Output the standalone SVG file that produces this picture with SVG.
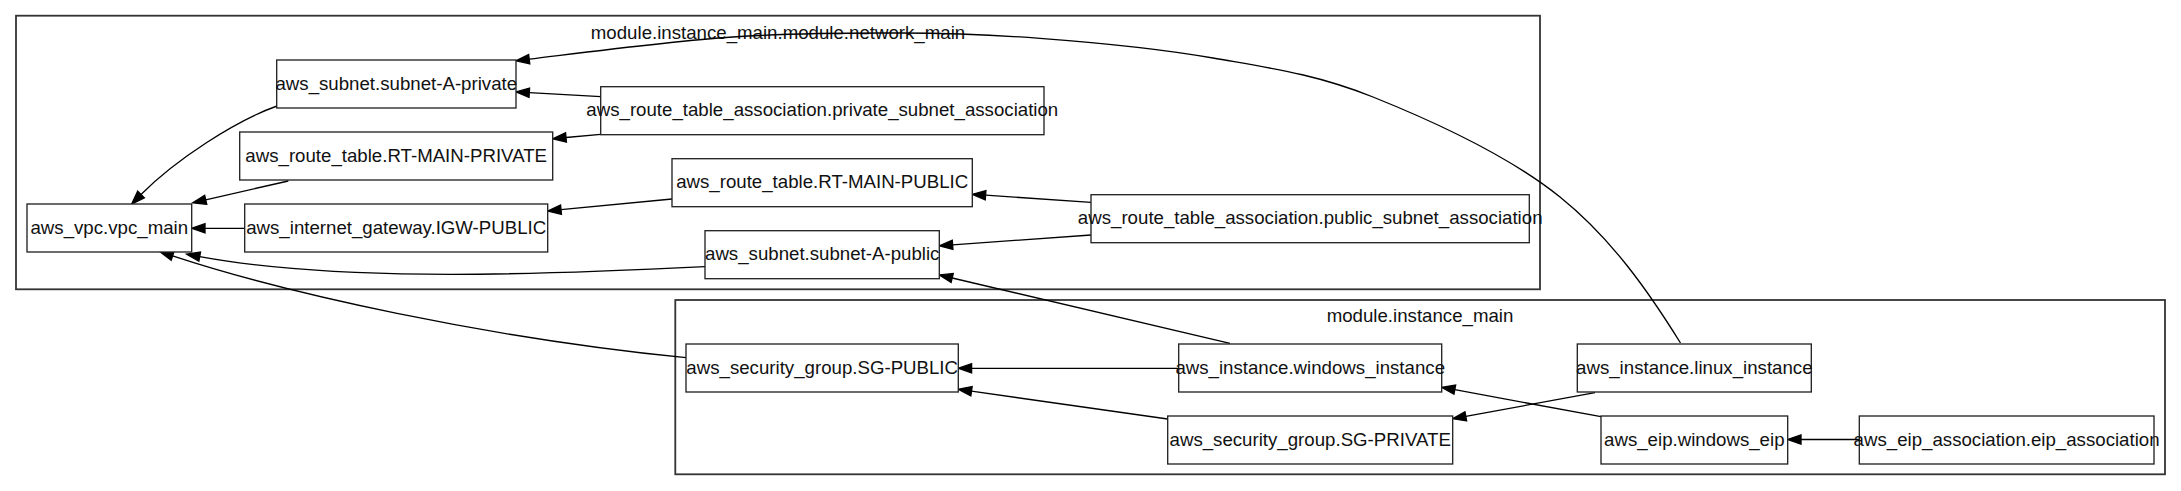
<svg xmlns="http://www.w3.org/2000/svg" width="2181" height="491" viewBox="0 0 2181 491">
<style>
  .cluster { fill: none; stroke: #333; stroke-width: 1.8; }
  .node rect { fill: #fff; stroke: #222; stroke-width: 1.33; }
  text { font-family: "Liberation Sans", Arial, sans-serif; font-size: 18.67px; fill: #111; text-anchor: middle; }
  .edge { fill: none; stroke: #000; stroke-width: 1.33; marker-end: url(#arrow); }
</style>
<defs>
  <marker id="arrow" markerUnits="userSpaceOnUse" markerWidth="16" markerHeight="12" viewBox="0 -6 16 12" refX="0" refY="0" orient="auto" overflow="visible">
    <path d="M0,-4.67 L13.3,0 L0,4.67 Z" fill="#000" stroke="#000" stroke-width="1.33"/>
  </marker>
</defs>
<rect width="2181" height="491" fill="#fff"/>

<g id="cluster_network_main">
  <rect class="cluster" x="16" y="15.7" width="1524" height="273.6"/>
  <text x="778" y="38.5">module.instance_main.module.network_main</text>
</g>
<g id="cluster_instance_main">
  <rect class="cluster" x="675.3" y="300" width="1489.7" height="174.3"/>
  <text x="1420" y="322.3">module.instance_main</text>
</g>

<g id="connectors">
  <path class="edge" d="M277,106 C235,121 175,160 141,194.5"/>
  <path class="edge" d="M600.7,96.7 L529.3,92.7"/>
  <path class="edge" d="M600.7,134.3 L566,137.5"/>
  <path class="edge" d="M288.3,181 L205.7,199.8"/>
  <path class="edge" d="M244.7,228.3 L205,228.3"/>
  <path class="edge" d="M672,199 L561,209.7"/>
  <path class="edge" d="M1091,202.3 L985.6,195.2"/>
  <path class="edge" d="M1091,235 L952.6,244.8"/>
  <path class="edge" d="M705,266.7 C505,276.7 327.6,280 199.7,256.6"/>
  <path class="edge" d="M686,357.7 C486,337.7 286.6,293.5 172.6,255.9"/>
  <path class="edge" d="M1230,343.3 L952.2,278"/>
  <path class="edge" d="M1178.7,368.3 L971.6,368.3"/>
  <path class="edge" d="M1167.7,419 L971.5,391.2"/>
  <path class="edge" d="M1595,392.7 L1465.8,416.3"/>
  <path class="edge" d="M1601,416.7 L1454.8,389.7"/>
  <path class="edge" d="M1859.3,439.5 L1801,439.5"/>
  <path class="edge" d="M1680.5,343 C1648,290.7 1611,238 1560,197 C1509,156 1430.8,120.2 1373,97 C1315.2,73.8 1268.5,67.8 1213,58 C1157.5,48.2 1092.2,42.2 1040,38.3 C987.8,34.4 951.2,33.2 900,33 C848.8,32.8 795,32.8 733,37 C671,41.2 596.3,51 529.2,59.2"/>
</g>

<g id="aws_vpc.vpc_main" class="node">
  <rect x="27" y="204" width="164.7" height="48"/>
  <text x="109.3" y="233.6">aws_vpc.vpc_main</text>
</g>
<g id="aws_subnet.subnet-A-private" class="node">
  <rect x="276.7" y="60" width="239.3" height="48"/>
  <text x="396.3" y="89.6">aws_subnet.subnet-A-private</text>
</g>
<g id="aws_route_table.RT-MAIN-PRIVATE" class="node">
  <rect x="239.7" y="132" width="313" height="48"/>
  <text x="396.2" y="161.6">aws_route_table.RT-MAIN-PRIVATE</text>
</g>
<g id="aws_internet_gateway.IGW-PUBLIC" class="node">
  <rect x="244.7" y="204" width="303" height="48"/>
  <text x="396.2" y="233.6">aws_internet_gateway.IGW-PUBLIC</text>
</g>
<g id="aws_route_table_association.private_subnet_association" class="node">
  <rect x="600.7" y="86.7" width="443.3" height="48"/>
  <text x="822.3" y="116.3">aws_route_table_association.private_subnet_association</text>
</g>
<g id="aws_route_table.RT-MAIN-PUBLIC" class="node">
  <rect x="672" y="158.7" width="300.3" height="48"/>
  <text x="822.2" y="188.3">aws_route_table.RT-MAIN-PUBLIC</text>
</g>
<g id="aws_subnet.subnet-A-public" class="node">
  <rect x="705" y="230.7" width="234.3" height="48"/>
  <text x="822.2" y="260.3">aws_subnet.subnet-A-public</text>
</g>
<g id="aws_route_table_association.public_subnet_association" class="node">
  <rect x="1091" y="194.7" width="438.3" height="48"/>
  <text x="1310.2" y="224.3">aws_route_table_association.public_subnet_association</text>
</g>
<g id="aws_security_group.SG-PUBLIC" class="node">
  <rect x="686" y="344" width="272.3" height="48"/>
  <text x="822.2" y="373.6">aws_security_group.SG-PUBLIC</text>
</g>
<g id="aws_instance.windows_instance" class="node">
  <rect x="1178.7" y="344" width="263" height="48"/>
  <text x="1310.2" y="373.6">aws_instance.windows_instance</text>
</g>
<g id="aws_security_group.SG-PRIVATE" class="node">
  <rect x="1167.7" y="416" width="285" height="48"/>
  <text x="1310.2" y="445.6">aws_security_group.SG-PRIVATE</text>
</g>
<g id="aws_instance.linux_instance" class="node">
  <rect x="1577.3" y="344" width="234" height="48"/>
  <text x="1694.3" y="373.6">aws_instance.linux_instance</text>
</g>
<g id="aws_eip.windows_eip" class="node">
  <rect x="1601" y="416" width="186.7" height="48"/>
  <text x="1694.3" y="445.6">aws_eip.windows_eip</text>
</g>
<g id="aws_eip_association.eip_association" class="node">
  <rect x="1859.3" y="416" width="294.7" height="48"/>
  <text x="2006.6" y="445.6">aws_eip_association.eip_association</text>
</g>
</svg>
